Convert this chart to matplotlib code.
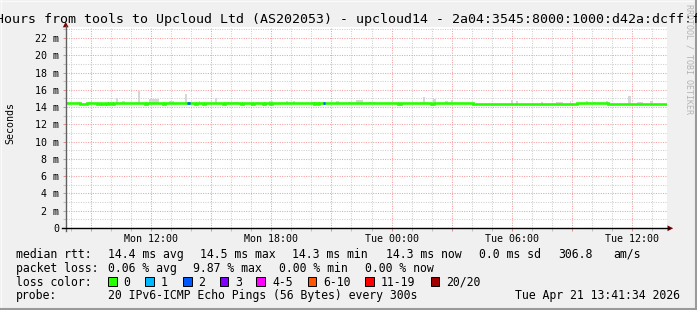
import matplotlib
matplotlib.use('Agg')
import matplotlib.pyplot as plt
from matplotlib.patches import Rectangle, Polygon

W, H = 697, 310
MONO = 'DejaVu Sans Mono'

# Data
# x = hours since Mon 00:00, window Mon 07:45 -> Tue 13:45
x_start, x_end = 7.75, 37.75
y_max = 23.27  # ms

# median rtt (ms), step changes
median_t = [7.75, 8.43, 8.82, 9.32, 9.43, 9.53, 9.68, 9.78, 9.90, 10.07, 10.15,
            11.70, 11.80, 12.57, 12.70, 14.18, 14.28, 14.60, 14.68, 15.60, 15.68,
            16.48, 16.57, 17.03, 17.12, 17.57, 17.68, 17.95, 18.03, 20.12, 20.20,
            20.32, 20.40, 24.30, 24.48, 25.98, 26.10, 28.05, 33.25, 34.80, 37.68]
median_v = [14.42, 14.31, 14.42, 14.31, 14.42, 14.31, 14.42, 14.31, 14.42, 14.31, 14.42,
            14.31, 14.42, 14.31, 14.42, 14.31, 14.42, 14.31, 14.42, 14.31, 14.42,
            14.31, 14.42, 14.31, 14.42, 14.31, 14.42, 14.31, 14.42, 14.31, 14.42,
            14.31, 14.42, 14.31, 14.42, 14.31, 14.42, 14.30, 14.42, 14.30, 14.30]

# steps with 2/20 packet loss (blue)
loss2_start = [13.80, 20.57]
loss2_end = [13.93, 20.68]
loss2_v = [14.42, 14.42]

# smoke (grey spikes above the median)
smoke_start = [8.35, 8.85, 9.30, 10.23, 10.57, 11.35, 11.87, 12.90, 13.70, 14.37,
               15.20, 15.73, 17.23, 17.90, 18.73, 19.07, 19.98, 21.23, 21.90, 22.23,
               22.82, 24.32, 25.57, 26.07, 26.65, 26.98, 29.98, 30.23, 31.48, 32.23,
               32.90, 33.73, 34.07, 34.73, 35.82, 36.23, 36.90]
smoke_end = [8.45, 9.05, 9.40, 10.33, 10.68, 11.43, 12.40, 13.15, 13.78, 14.43,
             15.30, 16.40, 17.40, 18.07, 18.83, 19.18, 20.15, 21.37, 21.98, 22.57,
             23.15, 24.48, 25.65, 26.20, 26.82, 27.07, 30.07, 30.30, 31.57, 32.57,
             32.98, 33.82, 34.15, 34.82, 35.93, 36.57, 37.07]
smoke_top = [14.55, 14.59, 14.59, 15.00, 14.70, 15.86, 14.95, 14.65, 15.50, 14.70,
             15.00, 14.59, 14.59, 14.74, 14.70, 14.70, 14.59, 14.70, 14.59, 14.80,
             14.59, 14.59, 15.20, 14.94, 14.70, 14.80, 14.80, 14.70, 14.59, 14.59,
             14.70, 14.70, 14.59, 14.70, 15.30, 14.59, 14.70]
smoke_base = 14.30

tick_hours = [12, 18, 24, 30, 36]
tick_labels = ['Mon 12:00', 'Mon 18:00', 'Tue 00:00', 'Tue 06:00', 'Tue 12:00']
y_ticks = list(range(0, 23, 2))
y_labels = ['0'] + ['%d m' % v for v in y_ticks[1:]]

title = 'Hours from tools to Upcloud Ltd (AS202053) - upcloud14 - 2a04:3545:8000:1000:d42a:dcff:f'

rtt_text = ['14.4 ms avg', '14.5 ms max', '14.3 ms min', '14.3 ms now', '0.0 ms sd', '306.8', 'am/s']
rtt_x = [107.6, 200, 292, 386, 479, 558, 613]
loss_text = ['0.06 % avg', '9.87 % max', '0.00 % min', '0.00 % now']
loss_x = [107.6, 193.3, 279.3, 365]
loss_labels = ['0', '1', '2', '3', '4-5', '6-10', '11-19', '20/20']
loss_colors = ['#26ff00', '#00b8ff', '#0059ff', '#7e00ff', '#ff00ff', '#ff5500', '#ff0000', '#a00000']
loss_box_x = [108, 145, 183, 219.5, 256.4, 307.5, 365, 430.7]
probe_text = '20 IPv6-ICMP Echo Pings (56 Bytes) every 300s'
date_text = 'Tue Apr 21 13:41:34 2026'

# Figure
fig = plt.figure(figsize=(W / 100, H / 100), dpi=100)
fig.patch.set_facecolor('#f0f0f0')

ax = fig.add_axes([66 / W, 82 / H, (667 - 66) / W, 201 / H])
ax.set_facecolor('white')
ax.set_xlim(x_start, x_end)
ax.set_ylim(0, y_max)
for s in ax.spines.values():
    s.set_visible(False)

# grid
ax.set_xticks(range(9, 38, 3))
ax.set_xticks(range(8, 38), minor=True)
ax.set_xticklabels([tick_labels[tick_hours.index(h)] if h in tick_hours else '' for h in range(9, 38, 3)])
ax.set_yticks(y_ticks)
ax.set_yticklabels(y_labels)
ax.set_yticks(range(1, 24), minor=True)
ax.grid(which='major', color='#f2a0a0', lw=0.75, ls=(0, (1, 1.3)))
ax.grid(which='minor', color='#cfcfcf', lw=0.75, ls=(0, (1, 1.3)))
ax.set_axisbelow(True)
ax.tick_params(which='major', length=2, width=0.75, color='#e89090', pad=3,
               labelsize=7.2, labelfontfamily=MONO)
ax.tick_params(which='minor', length=2, width=0.75, color='#c0c0c0')
ax.tick_params(axis='x', pad=2.5)

# smoke
ax.bar(smoke_start, [t - smoke_base for t in smoke_top],
       width=[e - s for s, e in zip(smoke_start, smoke_end)],
       bottom=smoke_base, align='edge', color='#d6d6d6', lw=0, zorder=2)

# median line
ax.plot(median_t, median_v, drawstyle='steps-post', color='#26ff00', lw=1.9,
        solid_joinstyle='miter', zorder=3)
ax.hlines(loss2_v, loss2_start, loss2_end, color='#0059ff', lw=1.9, zorder=4)

# overlay in pixel coords
ov = fig.add_axes([0, 0, 1, 1], zorder=5)
ov.set_xlim(0, W)
ov.set_ylim(H, 0)
ov.axis('off')
ov.patch.set_alpha(0)

# frame
ov.plot([0, W], [0.5, 0.5], color='#fafafa', lw=1)
ov.plot([0.5, 0.5], [0, H], color='#fafafa', lw=1)
ov.plot([0, W], [H - 1, H - 1], color='#9a9a9a', lw=1.5)
ov.plot([W - 1, W - 1], [0, H], color='#9a9a9a', lw=1.5)

# axes with arrows
ov.plot([65.7, 65.7], [231, 26], color='#606060', lw=1)
ov.plot([62, 668.5], [228.3, 228.3], color='black', lw=1)
ov.add_patch(Polygon([[62.8, 27.3], [68.6, 27.3], [65.7, 21.8]], closed=True, color='#7f0000', lw=0))
ov.add_patch(Polygon([[667.5, 225.4], [667.5, 231.2], [673.2, 228.3]], closed=True, color='#7f0000', lw=0))

# texts
ov.text(-4, 23.3, title, ha='left', va='baseline', fontsize=9.57, family=MONO)
ov.text(10, 122.5, 'Seconds', rotation=90, ha='center', va='center', fontsize=7.2, family=MONO)
ov.text(688.5, 4, 'RRDTOOL / TOBI OETIKER', rotation=-90, ha='center', va='top',
        fontsize=6.0, family=MONO, color='#b4b4b4')

fs = 8.3
rows = [257.7, 271.7, 285.7, 299.5]
ov.text(16, rows[0], 'median rtt:', fontsize=fs, family=MONO, va='baseline')
for x, s in zip(rtt_x, rtt_text):
    ov.text(x, rows[0], s, fontsize=fs, family=MONO, va='baseline')
ov.text(16, rows[1], 'packet loss:', fontsize=fs, family=MONO, va='baseline')
for x, s in zip(loss_x, loss_text):
    ov.text(x, rows[1], s, fontsize=fs, family=MONO, va='baseline')
ov.text(16, rows[2], 'loss color:', fontsize=fs, family=MONO, va='baseline')
for x, c, s in zip(loss_box_x, loss_colors, loss_labels):
    ov.add_patch(Rectangle((x, rows[2] - 9), 8.5, 9.5, facecolor=c, edgecolor='black', lw=0.7))
    ov.text(x + 15.6, rows[2], s, fontsize=fs, family=MONO, va='baseline')
ov.text(16, rows[3], 'probe:', fontsize=fs, family=MONO, va='baseline')
ov.text(107.6, rows[3], probe_text, fontsize=fs, family=MONO, va='baseline')
ov.text(680, rows[3], date_text, fontsize=fs, family=MONO, va='baseline', ha='right')

fig.savefig('out.png', dpi=100, facecolor=fig.get_facecolor())
